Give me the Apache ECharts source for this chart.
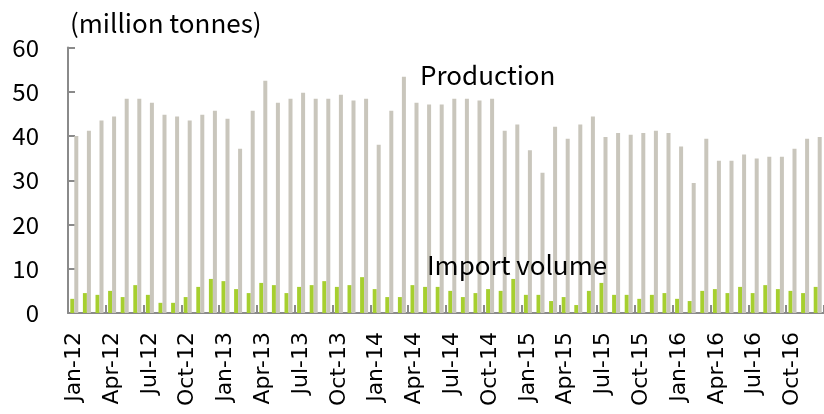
<!DOCTYPE html>
<html>
<head>
<meta charset="utf-8">
<script src="https://cdn.jsdelivr.net/npm/echarts@6/dist/echarts.min.js"></script>
<style>
  html, body { margin: 0; padding: 0; background: #fff; }
  #chart { width: 824px; height: 414px; }
</style>
</head>
<body>
<div id="chart"></div>
<script>
// Monthly crude steel production and import volume, Jan 2012 – Dec 2016
const monthNames = ['Jan','Feb','Mar','Apr','May','Jun','Jul','Aug','Sep','Oct','Nov','Dec'];
const years = ['12','13','14','15','16'];
const categories = [];
years.forEach(y => monthNames.forEach(m => categories.push(m + '-' + y)));

const production = [
  40.0, 41.2, 43.5, 44.4, 48.4, 48.4, 47.5, 44.8, 44.4, 43.5, 44.8, 45.7,
  43.9, 37.1, 45.7, 52.5, 47.5, 48.4, 49.8, 48.4, 48.4, 49.3, 48.0, 48.4,
  38.0, 45.7, 53.4, 47.5, 47.1, 47.1, 48.4, 48.4, 48.0, 48.4, 41.2, 42.6,
  36.8, 31.7, 42.1, 39.4, 42.6, 44.4, 39.8, 40.7, 40.3, 40.7, 41.2, 40.7,
  37.6, 29.4, 39.4, 34.4, 34.4, 35.8, 34.9, 35.3, 35.3, 37.1, 39.4, 39.8
];

const importVolume = [
  3.2, 4.5, 4.1, 5.0, 3.6, 6.3, 4.1, 2.3, 2.3, 3.6, 5.9, 7.7,
  7.2, 5.4, 4.5, 6.8, 6.3, 4.5, 5.9, 6.3, 7.2, 5.9, 6.3, 8.1,
  5.4, 3.6, 3.6, 6.3, 5.9, 5.9, 5.0, 3.6, 4.5, 5.4, 5.0, 7.7,
  4.1, 4.1, 2.7, 3.6, 1.8, 5.0, 6.8, 4.1, 4.1, 3.2, 4.1, 4.5,
  3.2, 2.7, 5.0, 5.4, 4.5, 5.9, 4.5, 6.3, 5.4, 5.0, 4.5, 5.9
];

const yTicks = { min: 0, max: 60, step: 10 };

const jpFont = '"Noto Sans CJK JP", "Noto Sans", sans-serif';
const axisGray = '#8a8a8a';

const captions = [
  { text: 'Production', left: 420, top: 62 },
  { text: 'Import volume', left: 427, top: 252 }
];

function captionElements() {
  return captions.map(c => ({
    type: 'text',
    left: c.left,
    top: c.top,
    z: 100,
    style: { text: c.text, font: '26px ' + jpFont, fill: '#000' }
  }));
}

const chart = echarts.init(document.getElementById('chart'), null, { renderer: 'canvas' });

chart.setOption({
  animation: false,
  backgroundColor: '#ffffff',
  grid: { left: 68, right: 0, top: 47.5, bottom: 101, containLabel: false, outerBoundsMode: 'none' },
  title: {
    text: '(million tonnes)',
    left: 65,
    top: 5,
    textStyle: { fontFamily: jpFont, fontSize: 26, fontWeight: 'normal', color: '#000' }
  },
  xAxis: {
    type: 'category',
    data: categories,
    boundaryGap: true,
    axisLine: { show: true, lineStyle: { color: axisGray, width: 2 } },
    axisTick: { show: true, inside: true, length: 8, interval: 2, alignWithLabel: false,
                lineStyle: { color: axisGray, width: 2 } },
    axisLabel: {
      show: true,
      interval: 2,
      rotate: 90,
      margin: 19,
      hideOverlap: false,
      fontFamily: '"DejaVu Sans", sans-serif',
      fontSize: 22,
      color: '#000'
    },
    splitLine: { show: false }
  },
  yAxis: {
    type: 'value',
    min: yTicks.min,
    max: yTicks.max,
    interval: yTicks.step,
    axisLine: { show: true, lineStyle: { color: axisGray, width: 2 } },
    axisTick: { show: true, inside: true, length: 7, lineStyle: { color: axisGray, width: 2 } },
    axisLabel: { margin: 29, fontFamily: jpFont, fontSize: 24, color: '#000' },
    splitLine: { show: false }
  },
  series: [
    {
      name: 'Import volume',
      type: 'bar',
      data: importVolume,
      barWidth: 4,
      barGap: '0%',
      itemStyle: { color: '#a6cf2f' }
    },
    {
      name: 'Production',
      type: 'bar',
      data: production,
      barWidth: 4,
      itemStyle: { color: '#c9c6bc' }
    }
  ],
  graphic: captionElements()
});

// read back the merged axis settings and refresh the captions layer
const mergedLabel = chart.getOption().xAxis[0].axisLabel;
chart.setOption({ graphic: captionElements() });
</script>
</body>
</html>
